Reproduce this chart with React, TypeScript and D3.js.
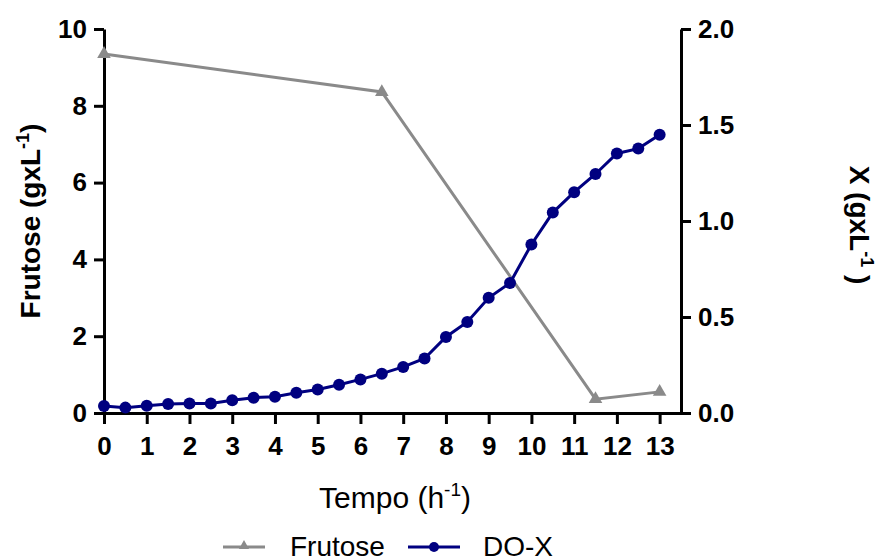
import React, { useEffect, useRef } from 'react';
import * as d3 from 'd3';

// Frutose (left axis, g/L)
const frutoseTime = [0, 6.5, 11.5, 13];
const frutoseValues = [9.35, 8.36, 0.36, 0.55];

// DO-X (right axis, g/L), sampled every 0.5 h
const doxTime = [0, 0.5, 1, 1.5, 2, 2.5, 3, 3.5, 4, 4.5, 5, 5.5, 6, 6.5, 7, 7.5, 8, 8.5, 9, 9.5, 10, 10.5, 11, 11.5, 12, 12.5, 13];
const doxValues = [0.036, 0.028, 0.038, 0.047, 0.05, 0.05, 0.066, 0.08, 0.085, 0.105, 0.122, 0.147, 0.175, 0.205, 0.24, 0.284, 0.396, 0.474, 0.6, 0.677, 0.878, 1.044, 1.15, 1.245, 1.352, 1.377, 1.449];

const xTicks = [0, 1, 2, 3, 4, 5, 6, 7, 8, 9, 10, 11, 12, 13];
const leftTicks = [0, 2, 4, 6, 8, 10];
const rightTicks = [0, 0.5, 1.0, 1.5, 2.0];

const FONT = 'Liberation Sans, Arial, Helvetica, sans-serif';
const GRAY = '#8a8a8a';
const NAVY = '#000080';

const App = () => {
  const ref = useRef<SVGSVGElement>(null);

  useEffect(() => {
    const svg = d3.select(ref.current);
    svg.selectAll('*').remove();

    const left = 104, right = 681, top = 29, bottom = 413;

    const x = d3.scaleLinear().domain([0, 13.5]).range([left, right]);
    const yL = d3.scaleLinear().domain([0, 10]).range([bottom, top]);
    const yR = d3.scaleLinear().domain([0, 2]).range([bottom, top]);

    const styleAxis = (g: any, size: number) => {
      g.select('.domain').attr('stroke', '#000').attr('stroke-width', 3);
      g.selectAll('.tick line').attr('stroke', '#000').attr('stroke-width', 3);
      g.selectAll('.tick text')
        .attr('fill', '#000')
        .style('font-family', FONT)
        .style('font-weight', 'bold')
        .style('font-size', `${size}px`);
    };

    // bottom axis
    svg.append('g')
      .attr('transform', `translate(0, ${bottom})`)
      .call(d3.axisBottom(x).tickValues(xTicks).tickFormat(d3.format('d')).tickSize(11).tickSizeOuter(0).tickPadding(13))
      .call(g => styleAxis(g, 26));

    // left axis
    svg.append('g')
      .attr('transform', `translate(${left}, 0)`)
      .call(d3.axisLeft(yL).tickValues(leftTicks).tickFormat(d3.format('d')).tickSize(10).tickSizeOuter(0).tickPadding(7))
      .call(g => styleAxis(g, 26));

    // right axis
    svg.append('g')
      .attr('transform', `translate(${right}, 0)`)
      .call(d3.axisRight(yR).tickValues(rightTicks).tickFormat(d3.format('.1f')).tickSize(10).tickSizeOuter(0).tickPadding(7))
      .call(g => styleAxis(g, 26));

    // Frutose series
    const frutose = frutoseTime.map((t, i) => ({ t, v: frutoseValues[i] }));
    svg.append('path')
      .datum(frutose)
      .attr('fill', 'none')
      .attr('stroke', GRAY)
      .attr('stroke-width', 3)
      .attr('d', d3.line<any>().x(d => x(d.t)).y(d => yL(d.v)));

    const tri = d3.symbol().type(d3.symbolTriangle).size(80);
    svg.selectAll('.tri')
      .data(frutose)
      .enter().append('path')
      .attr('class', 'tri')
      .attr('transform', d => `translate(${x(d.t)}, ${yL(d.v)})`)
      .attr('d', tri)
      .attr('fill', GRAY);

    // DO-X series
    const dox = doxTime.map((t, i) => ({ t, v: doxValues[i] }));
    svg.append('path')
      .datum(dox)
      .attr('fill', 'none')
      .attr('stroke', NAVY)
      .attr('stroke-width', 3)
      .attr('d', d3.line<any>().x(d => x(d.t)).y(d => yR(d.v)));

    svg.selectAll('.dot')
      .data(dox)
      .enter().append('circle')
      .attr('class', 'dot')
      .attr('cx', d => x(d.t))
      .attr('cy', d => yR(d.v))
      .attr('r', 6)
      .attr('fill', NAVY);

    // left title
    const lt = svg.append('text')
      .attr('transform', `translate(40, 221) rotate(-90)`)
      .attr('text-anchor', 'middle')
      .style('font-family', FONT)
      .style('font-weight', 'bold')
      .style('font-size', '28px');
    lt.append('tspan').text('Frutose (gxL');
    lt.append('tspan').attr('dy', -11).style('font-size', '18px').text('-1');
    lt.append('tspan').attr('dy', 11).text(')');

    // right title
    const rt = svg.append('text')
      .attr('transform', `translate(850, 225) rotate(90)`)
      .attr('text-anchor', 'middle')
      .style('font-family', FONT)
      .style('font-weight', 'bold')
      .style('font-size', '28px');
    rt.append('tspan').text('X (gxL');
    rt.append('tspan').attr('dy', -11).style('font-size', '18px').text('-1');
    rt.append('tspan').attr('dy', 11).text(' )');

    // x title
    const xt = svg.append('text')
      .attr('x', 395)
      .attr('y', 508)
      .attr('text-anchor', 'middle')
      .style('font-family', FONT)
      .style('font-size', '30px');
    xt.append('tspan').text('Tempo (h');
    xt.append('tspan').attr('dy', -12).style('font-size', '19px').text('-1');
    xt.append('tspan').attr('dy', 12).text(')');

    // legend
    const legendY = 547;
    const legend = [
      { name: 'Frutose', color: GRAY, x0: 223, x1: 265, tx: 290, marker: 'tri' },
      { name: 'DO-X', color: NAVY, x0: 408, x1: 460, tx: 483, marker: 'dot' },
    ];
    legend.forEach(l => {
      svg.append('line')
        .attr('x1', l.x0).attr('x2', l.x1)
        .attr('y1', legendY).attr('y2', legendY)
        .attr('stroke', l.color).attr('stroke-width', 3);
      if (l.marker === 'tri') {
        svg.append('path')
          .attr('transform', `translate(${(l.x0 + l.x1) / 2}, ${legendY - 1})`)
          .attr('d', d3.symbol().type(d3.symbolTriangle).size(45))
          .attr('fill', l.color);
      } else {
        svg.append('circle')
          .attr('cx', (l.x0 + l.x1) / 2).attr('cy', legendY)
          .attr('r', 5).attr('fill', l.color);
      }
      svg.append('text')
        .attr('x', l.tx)
        .attr('y', 556)
        .style('font-family', FONT)
        .style('font-size', '28px')
        .text(l.name);
    });
  }, []);

  return (
    <svg ref={ref} width={883} height={560} style={{ position: 'absolute', left: 0, top: 0, background: '#fff' }}></svg>
  );
};

export default App;
